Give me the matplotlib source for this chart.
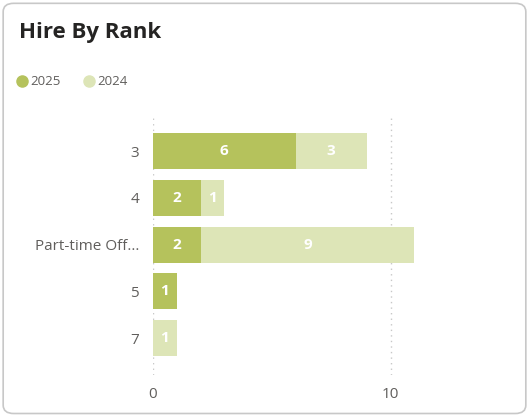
import numpy as np
import matplotlib.pyplot as plt
from matplotlib.patches import FancyBboxPatch
from matplotlib.lines import Line2D

ranks = ['3', '4', 'Part-time Off...', '5', '7']
hires_2025 = [6, 2, 2, 1, 0]
hires_2024 = [3, 1, 9, 0, 1]

col_2025 = '#b5c25c'
col_2024 = '#dde5b7'
txt_col = '#605e5c'

plt.rcParams['font.family'] = ['Open Sans', 'DejaVu Sans']

fig = plt.figure(figsize=(5.29, 4.16), dpi=100)

# card outline, kept behind the axes
card = FancyBboxPatch((0.006, 0.006), 0.988, 0.986,
                      boxstyle='round,pad=0,rounding_size=0.02',
                      transform=fig.transFigure, facecolor='none',
                      edgecolor='#c8c8c8', linewidth=1.2, zorder=-1)
fig.patches.append(card)

fig.text(0.036, 0.923, 'Hire By Rank', fontsize=16, fontweight='bold',
         color='#252423', va='center')

# legend
fig.add_artist(Line2D([0.042], [0.805], marker='o', markersize=8,
                      color=col_2025, transform=fig.transFigure))
fig.text(0.057, 0.805, '2025', fontsize=9.5, color=txt_col, va='center')
fig.add_artist(Line2D([0.168], [0.805], marker='o', markersize=8,
                      color=col_2024, transform=fig.transFigure))
fig.text(0.184, 0.805, '2024', fontsize=9.5, color=txt_col, va='center')

ax = fig.add_axes([153 / 529, 1 - 375 / 416, (500 - 153) / 529, (375 - 115) / 416])
y = np.arange(len(ranks))
h = 0.77

ax.barh(y, hires_2025, height=h, color=col_2025, zorder=3)
ax.barh(y, hires_2024, left=hires_2025, height=h, color=col_2024, zorder=3)

for vals, lefts in [(hires_2025, [0] * 5), (hires_2024, hires_2025)]:
    for yi, v, l in zip(y, vals, lefts):
        if v > 0:
            ax.text(l + v / 2, yi, str(v), ha='center', va='center',
                    color='white', fontsize=11, fontweight='bold', zorder=4)

ax.set_xlim(0, (500 - 153) / 23.75)
ax.set_ylim(4.79, -0.77)
ax.set_yticks(y)
ax.set_yticklabels(ranks)
ax.set_xticks([0, 10])
ax.tick_params(length=0, labelsize=11, colors=txt_col, pad=10)
ax.tick_params(axis='x', pad=9)
for s in ax.spines.values():
    s.set_visible(False)
ax.grid(axis='x', linestyle=(0, (1, 3)), color='#c8c8c8', linewidth=1, zorder=0)
ax.set_facecolor('none')

fig.savefig('out.png', dpi=100)
